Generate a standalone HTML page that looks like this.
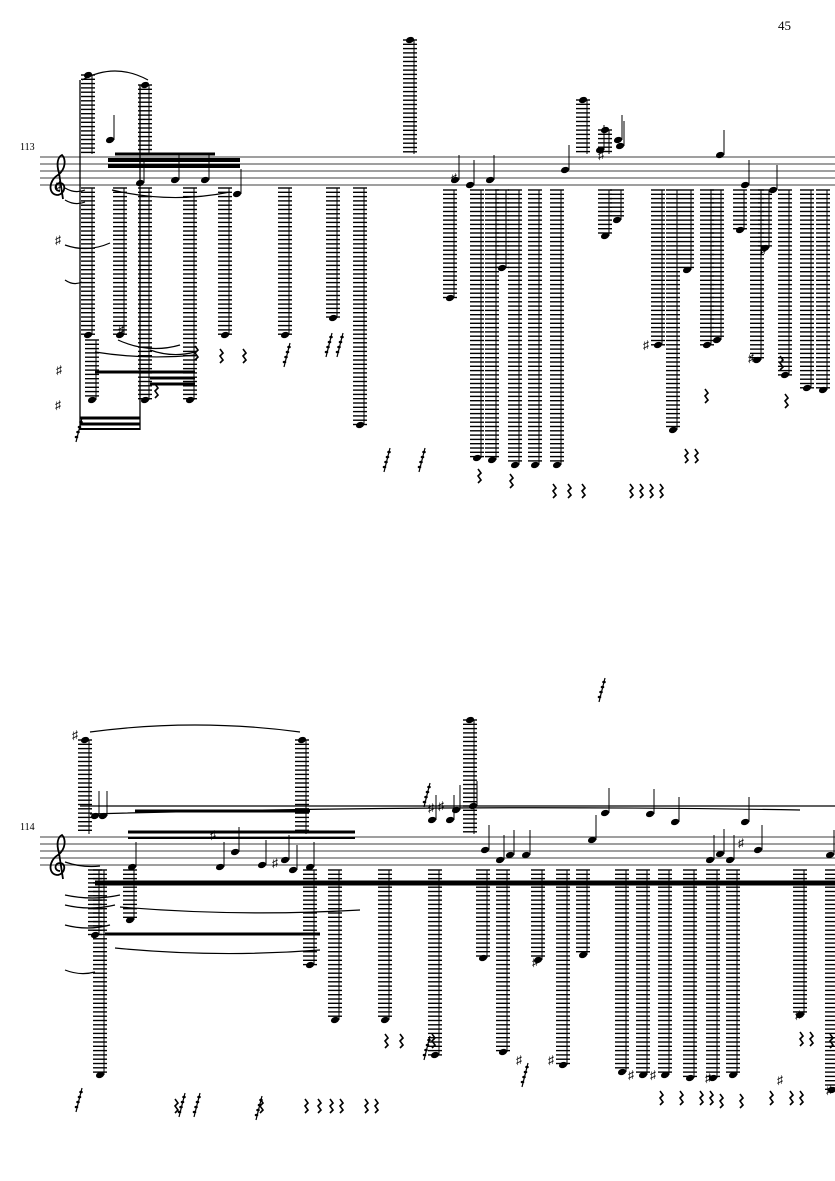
<!DOCTYPE html>
<html><head><meta charset="utf-8"><style>
html,body{margin:0;padding:0;background:#fff;}
svg{display:block;}
text{font-family:"Liberation Serif",serif;}
</style></head><body>
<svg id="s" width="835" height="1181" viewBox="0 0 835 1181" xmlns="http://www.w3.org/2000/svg">
<rect width="835" height="1181" fill="#fff"/>
<text x="778" y="30" font-size="13">45</text>
<text x="20" y="150" font-size="10">113</text>
<text x="20" y="830" font-size="10">114</text>
<g id="g"></g>
</svg>
<script>
var g=document.getElementById('g'),o='';
function L(x1,y1,x2,y2,w,c){o+='<line x1="'+x1+'" y1="'+y1+'" x2="'+x2+'" y2="'+y2+'" stroke="'+(c||'#000')+'" stroke-width="'+(w||1)+'"/>';}
function N(x,y){o+='<ellipse cx="'+x+'" cy="'+y+'" rx="4.2" ry="3" transform="rotate(-20 '+x+' '+y+')" fill="#000"/>';}
function D(x,y){o+='<ellipse cx="'+x+'" cy="'+y+'" rx="1.8" ry="1.3" fill="#000"/>';}
function R(x,y){o+='<path d="M'+x+' '+(y-6)+' l3 4 -3 3 3 4 -3 3" fill="none" stroke="#000" stroke-width="1.6"/>';}
function S(x,y){o+='<text x="'+x+'" y="'+(y+4)+'" font-size="12" font-family="DejaVu Sans">♯</text>';}
function staff(y){for(var i=0;i<5;i++)L(40,y+i*7,835,y+i*7,1.2,'#666');
 o+='<path d="M60 '+(y+34)+' c-6 0 -6 -8 0 -8 c6 0 6 10 -2 12 c-10 0 -10 -14 0 -20 c8 -6 8 -16 4 -20 c-4 2 -6 8 -3 18 l4 26" fill="none" stroke="#000" stroke-width="1.8"/>';}
function col(x,t,b){
 for(var y=t;y<=b;y+=4.3)L(x-7,y,x+7,y,1.4);
 L(x+4,t,x+4,b,1);
}
staff(157);staff(837);
var c1=[[88,75,154],[88,188,335],[145,85,154],[145,188,400],[120,188,335],[190,188,400],[225,188,335],[285,188,335],[333,188,318],[360,188,425],[410,40,154],
[450,190,298],[477,190,458],[492,190,460],[502,190,268],[515,190,465],[535,190,465],[557,190,465],[583,100,154],[605,130,154],[605,190,236],[617,190,220],
[658,190,345],[673,190,430],[687,190,270],[707,190,345],[717,190,340],[740,190,230],[757,190,360],[765,190,248],[785,190,375],[807,190,388],[823,190,390],[92,340,400]];
c1.forEach(function(c){col(c[0],c[1],c[2]);N(c[0],c[1]<157?c[1]:c[2]);});
var c2=[[85,740,834],[302,740,834],[470,720,834],[100,870,1075],[310,870,965],[335,870,1020],[385,870,1020],[435,870,1055],[483,870,958],[503,870,1052],[538,870,960],[563,870,1065],[583,870,955],
[622,870,1072],[643,870,1075],[665,870,1075],[690,870,1078],[713,870,1078],[733,870,1075],[800,870,1015],[832,870,1090],[95,870,935],[130,870,920]];
c2.forEach(function(c){col(c[0],c[1],c[2]);N(c[0],c[1]<837?c[1]:c[2]);});
[[110,140],[140,183],[175,180],[205,180],[237,194],[455,180],[470,185],[490,180],[565,170],[600,150],[618,140],[620,146],[720,155],[745,185],[773,190]].forEach(function(p){N(p[0],p[1]);L(p[0]+4,p[1],p[0]+4,p[1]-25,1);});
[[95,816],[103,816],[132,867],[220,867],[235,852],[262,865],[285,860],[293,870],[310,867],[432,820],[450,820],[456,810],[473,806],[485,850],[500,860],[510,855],[526,855],[592,840],[605,813],[675,822],[650,814],[710,860],[720,854],[730,860],[745,822],[758,850],[830,855]].forEach(function(p){N(p[0],p[1]);L(p[0]+4,p[1],p[0]+4,p[1]-25,1);});
[[55,186],[55,240],[56,370],[55,405],[118,330],[643,345],[748,358],[760,250],[598,155],[451,178],[210,835],[272,863],[72,735],[428,808],[438,806],[532,962],[516,1060],[548,1060],[628,1075],[650,1075],[705,1078],[795,1015],[826,1090],[777,1080],[738,843]].forEach(function(p){S(p[0],p[1]);});
L(108,160,240,160,4);L(108,166,240,166,4);L(115,154,215,154,3);
L(95,372,195,372,3);L(150,378,195,378,3);L(150,384,195,384,3);
L(80,418,140,418,3);L(80,424,140,424,3);L(80,429,140,429,2);
L(80,806,835,806,1.2);L(135,811,310,811,3);L(128,832,355,832,3);L(128,838,355,838,2);
L(95,883,835,883,5);L(105,934,320,934,3);
function arc(x1,y1,x2,y2,h){o+='<path d="M'+x1+' '+y1+' Q'+((x1+x2)/2)+' '+(y1+h)+' '+x2+' '+y2+'" fill="none" stroke="#000" stroke-width="1.2"/>';}
arc(82,80,148,80,-18);arc(112,190,230,192,14);arc(118,340,180,345,14);arc(95,352,195,355,8);arc(150,350,195,352,8);
arc(90,732,300,732,-14);arc(120,907,360,910,10);arc(115,948,320,950,10);arc(90,814,800,810,-10);
arc(65,188,85,190,6);arc(65,200,85,202,6);arc(65,245,110,243,8);arc(65,280,82,282,6);arc(65,862,100,866,6);arc(65,895,120,895,6);arc(65,905,115,905,6);arc(65,925,110,925,6);arc(65,970,95,972,6);
L(80,80,80,430,1.3);L(140,85,140,430,1.3);
[[195,352],[220,355],[243,355],[155,390],[478,475],[510,480],[553,490],[568,490],[582,490],[630,490],[640,490],[650,490],[660,490],[685,455],[695,455],[705,395],[780,362],[785,400],
[385,1040],[400,1040],[432,1040],[800,1038],[810,1038],[830,1040],[305,1105],[318,1105],[330,1105],[340,1105],[365,1105],[375,1105],[660,1097],[680,1097],[700,1097],[710,1097],[720,1100],[740,1100],[770,1097],[790,1097],[800,1097],[175,1105],[260,1105]].forEach(function(p){R(p[0],p[1]);});
[[290,355],[332,345],[343,345],[390,460],[425,460],[430,1048],[528,1075],[605,690],[430,795],[82,430],[82,1100],[185,1105],[200,1105],[262,1108]].forEach(function(p){L(p[0],p[1]-12,p[0]-6,p[1]+12,1.2);for(var k=0;k<4;k++)D(p[0]-1-k*1.5,p[1]-8+k*5);});
g.innerHTML=o;
</script>
</body></html>
